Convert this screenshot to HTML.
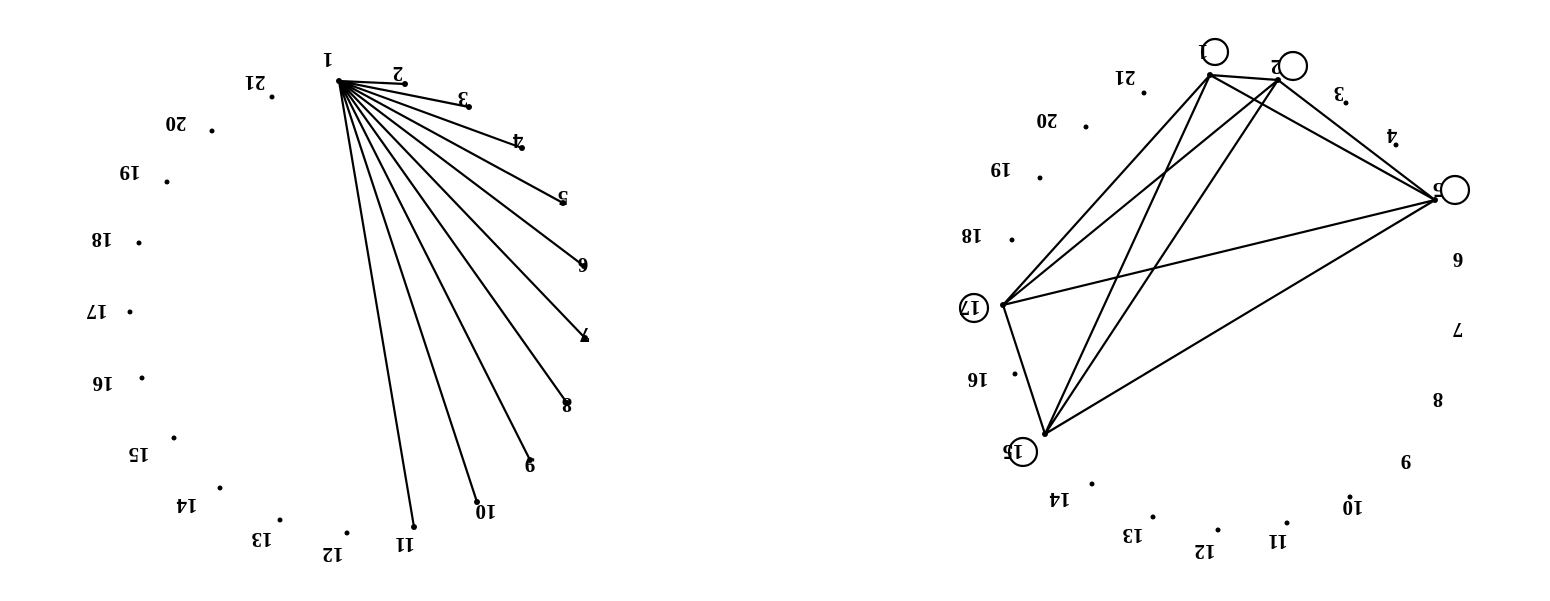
<!DOCTYPE html>
<html><head><meta charset="utf-8"><style>html,body{margin:0;padding:0;background:#fff;}svg{display:block}text{font-family:"Liberation Serif",serif;font-weight:700;font-size:21px;}</style></head>
<body>
<svg width="1550" height="601" viewBox="0 0 1550 601" xmlns="http://www.w3.org/2000/svg">
<g stroke="#000" stroke-width="2.2" fill="none">
<line x1="339" y1="81" x2="405" y2="84"/>
<line x1="339" y1="81" x2="469" y2="107"/>
<line x1="339" y1="81" x2="522" y2="148"/>
<line x1="339" y1="81" x2="563" y2="203"/>
<line x1="339" y1="81" x2="584" y2="266"/>
<line x1="339" y1="81" x2="585" y2="338"/>
<line x1="339" y1="81" x2="567" y2="403"/>
<line x1="339" y1="81" x2="530" y2="460"/>
<line x1="339" y1="81" x2="477" y2="502"/>
<line x1="339" y1="81" x2="414" y2="527"/>
<line x1="1210" y1="75" x2="1278" y2="80"/>
<line x1="1210" y1="75" x2="1435" y2="200"/>
<line x1="1210" y1="75" x2="1003" y2="305"/>
<line x1="1210" y1="75" x2="1045" y2="434"/>
<line x1="1278" y1="80" x2="1435" y2="200"/>
<line x1="1278" y1="80" x2="1003" y2="305"/>
<line x1="1278" y1="80" x2="1045" y2="434"/>
<line x1="1435" y1="200" x2="1003" y2="305"/>
<line x1="1435" y1="200" x2="1045" y2="434"/>
<line x1="1003" y1="305" x2="1045" y2="434"/>
<circle cx="1215" cy="52" r="13"/>
<circle cx="1293" cy="66" r="14"/>
<circle cx="1455" cy="190" r="14"/>
<circle cx="974" cy="308" r="14"/>
<circle cx="1023" cy="452" r="14"/>
</g>
<g fill="#000">
<circle cx="339" cy="81" r="3"/><circle cx="405" cy="84" r="3"/><circle cx="469" cy="107" r="3"/><circle cx="522" cy="148" r="3"/><circle cx="563" cy="203" r="3"/><circle cx="584" cy="266" r="3"/><circle cx="585" cy="338" r="3"/><circle cx="567" cy="403" r="3"/><circle cx="530" cy="460" r="3"/><circle cx="477" cy="502" r="3"/><circle cx="414" cy="527" r="3"/>
<circle cx="347" cy="533" r="2.5"/><circle cx="280" cy="520" r="2.5"/><circle cx="220" cy="488" r="2.5"/><circle cx="174" cy="438" r="2.5"/><circle cx="142" cy="378" r="2.5"/><circle cx="130" cy="312" r="2.5"/><circle cx="139" cy="243" r="2.5"/><circle cx="167" cy="182" r="2.5"/><circle cx="212" cy="131" r="2.5"/><circle cx="272" cy="97" r="2.5"/>
<circle cx="1210" cy="75" r="3"/><circle cx="1278" cy="80" r="3"/><circle cx="1346" cy="103" r="2.5"/><circle cx="1396" cy="145" r="2.5"/><circle cx="1435" cy="200" r="3"/><circle cx="1350" cy="497" r="2.5"/><circle cx="1287" cy="523" r="2.5"/><circle cx="1218" cy="530" r="2.5"/><circle cx="1153" cy="517" r="2.5"/><circle cx="1092" cy="484" r="2.5"/><circle cx="1045" cy="434" r="3"/><circle cx="1015" cy="374" r="2.5"/><circle cx="1003" cy="305" r="3"/><circle cx="1012" cy="240" r="2.5"/><circle cx="1040" cy="178" r="2.5"/><circle cx="1086" cy="127" r="2.5"/><circle cx="1144" cy="93" r="2.5"/>
</g>
<g text-anchor="middle" fill="#000">
<text transform="translate(328,53) rotate(180)">1</text>
<text transform="translate(398,67) rotate(180)">2</text>
<text transform="translate(463,92) rotate(180)">3</text>
<text transform="translate(518,134) rotate(180)">4</text>
<text transform="translate(563,191) rotate(180)">5</text>
<text transform="translate(583,258) rotate(180)">6</text>
<text transform="translate(585,328) rotate(180)">7</text>
<text transform="translate(567,398) rotate(180)">8</text>
<text transform="translate(530,458) rotate(180)">9</text>
<text transform="translate(486,505) rotate(180)">10</text>
<text transform="translate(405,538) rotate(180)">11</text>
<text transform="translate(333,548) rotate(180)">12</text>
<text transform="translate(262,533) rotate(180)">13</text>
<text transform="translate(187,499) rotate(180)">14</text>
<text transform="translate(139,448) rotate(180)">15</text>
<text transform="translate(103,377) rotate(180)">16</text>
<text transform="translate(97,305) rotate(180)">17</text>
<text transform="translate(102,233) rotate(180)">18</text>
<text transform="translate(130,166) rotate(180)">19</text>
<text transform="translate(176,117) rotate(180)">20</text>
<text transform="translate(255,76) rotate(180)">21</text>

<text transform="translate(1203,45) rotate(180)">1</text>
<text transform="translate(1276,60) rotate(180)">2</text>
<text transform="translate(1339,87) rotate(180)">3</text>
<text transform="translate(1392,129) rotate(180)">4</text>
<text transform="translate(1438,183) rotate(180)">5</text>
<text transform="translate(1458,253) rotate(180)">6</text>
<text transform="translate(1458,323) rotate(180)">7</text>
<text transform="translate(1438,393) rotate(180)">8</text>
<text transform="translate(1406,455) rotate(180)">9</text>
<text transform="translate(1353,501) rotate(180)">10</text>
<text transform="translate(1278,535) rotate(180)">11</text>
<text transform="translate(1205,545) rotate(180)">12</text>
<text transform="translate(1133,529) rotate(180)">13</text>
<text transform="translate(1060,493) rotate(180)">14</text>
<text transform="translate(1013,445) rotate(180)">15</text>
<text transform="translate(978,373) rotate(180)">16</text>
<text transform="translate(970,301) rotate(180)">17</text>
<text transform="translate(972,229) rotate(180)">18</text>
<text transform="translate(1001,163) rotate(180)">19</text>
<text transform="translate(1047,114) rotate(180)">20</text>
<text transform="translate(1125,71) rotate(180)">21</text>
</g>
</svg>
</body></html>
